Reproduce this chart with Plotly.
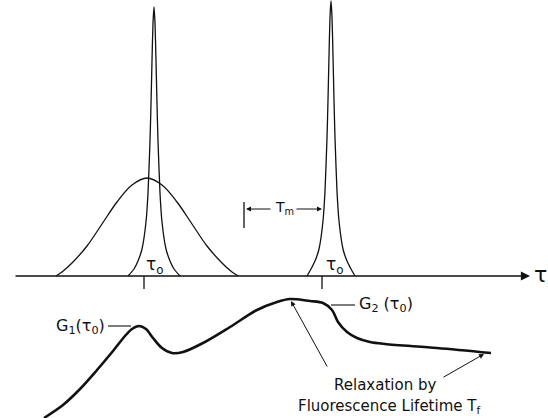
import plotly.graph_objects as go

# ---- data (tau in drawing units, amplitude above the tau axis) ----
gauss_tau = [56, 62, 72, 87, 102, 117, 132, 147, 162, 177, 192, 207, 222, 232, 238]
gauss_amp = [0, 4, 13, 30, 52, 74, 91, 98, 91, 74, 52, 30, 13, 4, 0]

peak1_tau = [128, 134, 138, 142, 146, 148, 150, 151, 152, 153, 154, 155, 156, 157, 158, 160, 162, 166, 170, 174, 180]
peak1_amp = [0, 7, 15, 27, 54, 83, 135, 172, 215, 253, 269, 253, 215, 172, 135, 83, 54, 27, 15, 7, 0]

peak2_tau = [307, 311, 315, 319, 323, 325, 327, 328, 329, 330, 331, 332, 333, 334, 335, 337, 339, 343, 347, 351, 355]
peak2_amp = [0, 7, 15, 27, 55, 85, 138, 176, 220, 259, 275, 259, 220, 176, 138, 85, 55, 27, 15, 7, 0]

g_tau = [44, 63, 80, 97, 113, 125, 132, 139, 146, 153, 162, 172, 183, 203, 230, 257, 277, 290, 310, 323, 332, 338, 347, 357, 370, 385, 437, 491]
g_amp = [-142, -129, -113, -94, -75, -60, -53, -50, -53, -62, -72, -77, -76, -67, -51, -34, -26, -23, -25, -27, -34, -46, -56, -62, -66, -68, -72, -77]

tick_tau = [144, 322]
axis_start, axis_end = 14, 530
tm_bar_tau = 244
tm_y = 67

BLACK = "#111111"
FONT = "DejaVu Sans"

fig = go.Figure()
thin = dict(color=BLACK, width=1.3)

fig.add_trace(go.Scatter(x=gauss_tau, y=gauss_amp, mode="lines",
                         line=dict(color=BLACK, width=1.3, shape="spline", smoothing=1.0)))
fig.add_trace(go.Scatter(x=peak1_tau, y=peak1_amp, mode="lines",
                         line=dict(color=BLACK, width=1.3, shape="spline", smoothing=0.6)))
fig.add_trace(go.Scatter(x=peak2_tau, y=peak2_amp, mode="lines",
                         line=dict(color=BLACK, width=1.3, shape="spline", smoothing=0.6)))
fig.add_trace(go.Scatter(x=g_tau, y=g_amp, mode="lines",
                         line=dict(color=BLACK, width=2.6, shape="spline", smoothing=0.9)))

# ticks under the axis
for t in tick_tau:
    fig.add_trace(go.Scatter(x=[t, t], y=[0, -13], mode="lines", line=thin))
# Tm bracket bar
fig.add_trace(go.Scatter(x=[tm_bar_tau, tm_bar_tau], y=[74, 48], mode="lines", line=thin))
# leader lines for G labels
fig.add_trace(go.Scatter(x=[108, 131], y=[-50, -50], mode="lines", line=dict(color=BLACK, width=1.1)))
fig.add_trace(go.Scatter(x=[331, 355], y=[-29, -29], mode="lines", line=dict(color=BLACK, width=1.1)))

ann = []
def arrow(x, y, ax, ay, w=1.0, size=1.0):
    ann.append(dict(x=x, y=y, ax=ax, ay=ay, xref="x", yref="y", axref="x", ayref="y",
                    text="", showarrow=True, arrowhead=2, arrowsize=size, arrowwidth=w,
                    arrowcolor=BLACK, standoff=0, startstandoff=0))

arrow(axis_end, 0, axis_start, 0, w=1.3, size=1.4)       # tau axis
arrow(tm_bar_tau + 2, tm_y, 272, tm_y)                   # Tm left arrow
arrow(322, tm_y, 295, tm_y)                               # Tm right arrow
arrow(291, -25, 328, -92)                                 # relaxation arrow to G2 top
arrow(484, -78, 442, -102)                                # relaxation arrow to tail

def label(x, y, text, size=15, xanchor="center"):
    ann.append(dict(x=x, y=y, xref="x", yref="y", text=text, showarrow=False,
                    xanchor=xanchor, yanchor="middle",
                    font=dict(family=FONT, size=size, color=BLACK)))

label(155, 11, "τ<sub>o</sub>", size=17)
label(335, 11, "τ<sub>o</sub>", size=17)
label(284, 68, "T<sub>m</sub>", size=14)
label(540, 2, "τ", size=22)
label(107, -50, "G<sub>1</sub>(τ<sub>0</sub>)", size=16, xanchor="right")
label(357, -28, "G<sub>2</sub> (τ<sub>0</sub>)", size=16, xanchor="left")
label(385, -109, "Relaxation by", size=15)
label(389, -130, "Fluorescence Lifetime T<sub>f</sub>", size=15)

fig.update_layout(
    width=548, height=418,
    margin=dict(l=0, r=0, t=0, b=0),
    paper_bgcolor="white", plot_bgcolor="white",
    showlegend=False,
    annotations=ann,
    xaxis=dict(range=[0, 548], visible=False, fixedrange=True),
    yaxis=dict(range=[-142, 276], visible=False, fixedrange=True),
)

fig.write_html("out.html")
